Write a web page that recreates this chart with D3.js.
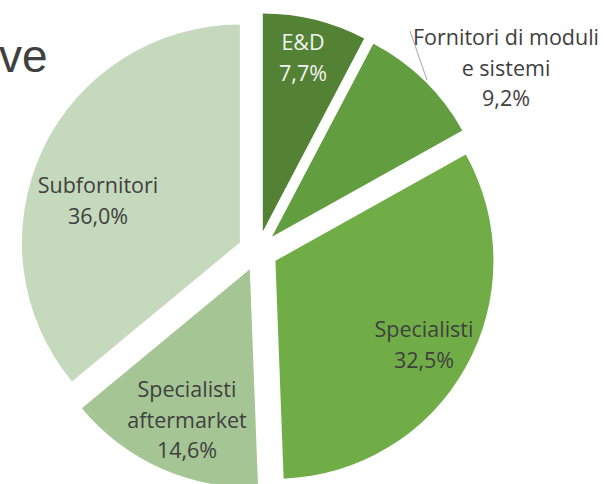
<!DOCTYPE html>
<html>
<head>
<meta charset="utf-8">
<script src="https://cdn.jsdelivr.net/npm/d3@7"></script>
<style>
  body { margin: 0; background: #ffffff; }
  svg { display: block; }
</style>
</head>
<body>
<div id="chart"></div>
<script>
const width = 604;
const height = 484;

// dati
const categorie = ["E&D", "Fornitori di moduli e sistemi", "Specialisti", "Specialisti aftermarket", "Subfornitori"];
const valori = [7.7, 9.2, 32.5, 14.6, 36.0];
const etichette = [["E&D", "7,7%"], ["Fornitori di moduli", "e sistemi", "9,2%"], ["Specialisti", "32,5%"], ["Specialisti", "aftermarket", "14,6%"], ["Subfornitori", "36,0%"]];
const colori = ["#548235", "#629d3f", "#70ad47", "#a5c595", "#c5d9bc"];
const coloriTesto = ["#f2f2f2", "#404040", "#404040", "#404040", "#404040"];

const cx = 258, cy = 251, R = 218, scoppio = 20;

const svg = d3.select("#chart").append("svg")
    .attr("width", width)
    .attr("height", height);

// titolo tagliato a sinistra
svg.append("text")
    .attr("x", -1)
    .attr("y", 72)
    .style("font-family", "Liberation Sans, Arial")
    .style("font-size", "46px")
    .style("fill", "#404040")
    .text("ve");

const pie = d3.pie().sort(null).value(d => d);
const arc = d3.arc().innerRadius(0).outerRadius(R);
const archi = pie(valori);

const g = svg.append("g").attr("transform", `translate(${cx},${cy})`);

const fette = g.selectAll(".fetta")
    .data(archi)
    .join("g")
    .attr("class", "fetta")
    .attr("transform", d => {
        const a = (d.startAngle + d.endAngle) / 2;
        return `translate(${Math.sin(a) * scoppio},${-Math.cos(a) * scoppio})`;
    });

fette.append("path")
    .attr("d", arc)
    .attr("fill", (d, i) => colori[i]);

// posizioni etichette (centro x, prima linea di base)
const posEtichette = [[303, 50], [506, 45], [424, 337], [187, 397], [98, 193]];
const interlinea = 30.5;

etichette.forEach((righe, i) => {
    const [x, y] = posEtichette[i];
    const t = svg.append("text")
        .attr("text-anchor", "middle")
        .style("font-family", "Open Sans, sans-serif")
        .style("font-size", "21.5px")
        .style("fill", coloriTesto[i]);
    righe.forEach((r, j) => {
        t.append("tspan")
            .attr("x", x)
            .attr("y", y + j * interlinea)
            .text(r);
    });
});

// linea guida per Fornitori
svg.append("line")
    .attr("x1", 410).attr("y1", 31)
    .attr("x2", 427).attr("y2", 80)
    .attr("stroke", "#a6a6a6")
    .attr("stroke-width", 1);
</script>
</body>
</html>
